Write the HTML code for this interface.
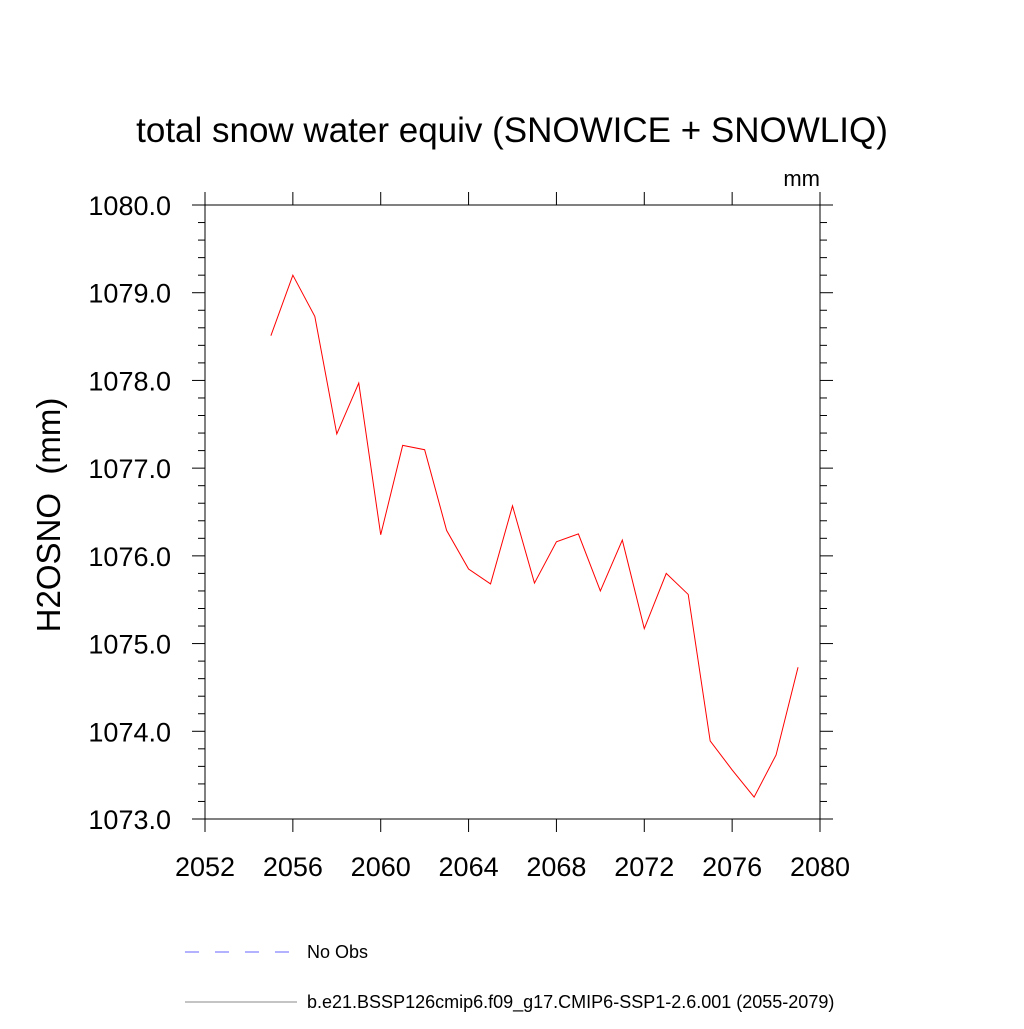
<!DOCTYPE html>
<html><head><meta charset="utf-8"><style>
body{margin:0;background:#fff;}
svg text{font-family:"Liberation Sans",sans-serif;}
</style></head><body>
<svg id="chart" width="1024" height="1024" viewBox="0 0 1024 1024">
<text x="512" y="142" font-size="35" text-anchor="middle">total snow water equiv (SNOWICE + SNOWLIQ)</text>
<text x="820" y="186" font-size="22" text-anchor="end">mm</text>
<text transform="translate(60,515) rotate(-90)" font-size="33" text-anchor="middle" xml:space="preserve">H2OSNO  (mm)</text>
<g id="axes"></g>
<g id="series"></g>
<g>
<line x1="185" y1="952" x2="292" y2="952" stroke="#6666ff" stroke-width="1" stroke-dasharray="14,16"/>
<text x="307" y="958" font-size="18">No Obs</text>
<line x1="185" y1="1002" x2="297" y2="1002" stroke="#888" stroke-width="1"/>
<text x="307" y="1008" font-size="18">b.e21.BSSP126cmip6.f09_g17.CMIP6-SSP1-2.6.001 (2055-2079)</text>
</g>
</svg>
<script>
const years=[2055,2056,2057,2058,2059,2060,2061,2062,2063,2064,2065,2066,2067,2068,2069,2070,2071,2072,2073,2074,2075,2076,2077,2078,2079];
const values=[1078.51,1079.20,1078.73,1077.39,1077.97,1076.24,1077.26,1077.21,1076.29,1075.85,1075.68,1076.57,1075.69,1076.16,1076.25,1075.60,1076.18,1075.17,1075.80,1075.56,1073.89,1073.56,1073.25,1073.73,1074.73];
const xTicks=[2052,2056,2060,2064,2068,2072,2076,2080];
const yTicks=[1073,1074,1075,1076,1077,1078,1079,1080];
const L=205,R=820,T=205,B=819;
const xS=v=>L+(v-2052)/(2080-2052)*(R-L);
const yS=v=>B-(v-1073)/(1080-1073)*(B-T);
const NS='http://www.w3.org/2000/svg';
function mk(t,a,p){const e=document.createElementNS(NS,t);for(const k in a)e.setAttribute(k,a[k]);p.appendChild(e);return e;}
const ax=document.getElementById('axes');
const fr=mk('rect',{x:L,y:T,width:R-L,height:B-T,fill:'none',stroke:'#000','stroke-width':1},ax);


xTicks.forEach(t=>{const x=xS(t);
mk('line',{x1:x,y1:B,x2:x,y2:B+13,stroke:'#000'},ax);mk('line',{x1:x,y1:T,x2:x,y2:T-13,stroke:'#000'},ax);});
for(let i=0;i<=35;i++){const v=1073+i*0.2;const y=yS(v);const maj=(i%5===0);const l=maj?13:7;
mk('line',{x1:L,y1:y,x2:L-l,y2:y,stroke:'#000'},ax);mk('line',{x1:R,y1:y,x2:R+l,y2:y,stroke:'#000'},ax);}
xTicks.forEach(t=>{const e=mk('text',{x:xS(t),y:B+57,'font-size':27,'text-anchor':'middle'},ax);e.textContent=t;

});
yTicks.forEach(t=>{const e=mk('text',{x:L-34,y:yS(t)+10,'font-size':27,'text-anchor':'end'},ax);e.textContent=t.toFixed(1);

});
const pts=years.map((y,i)=>xS(y)+','+yS(values[i])).join(' ');
const pl=mk('polyline',{points:pts,fill:'none',stroke:'#ff0000','stroke-width':1},document.getElementById('series'));


</script>
</body></html>
